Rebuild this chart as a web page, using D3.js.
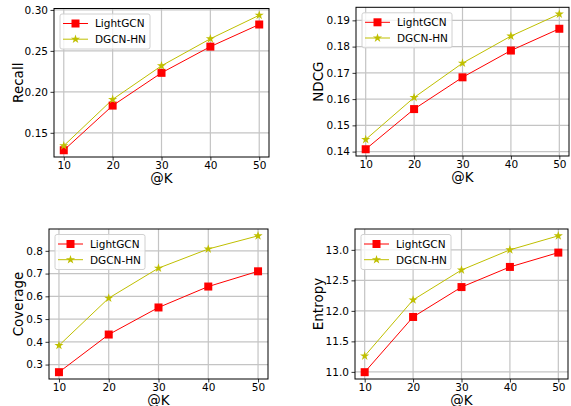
<!DOCTYPE html>
<html>
<head>
<meta charset="utf-8">
<script src="https://cdn.jsdelivr.net/npm/d3@7"></script>
<style>
  body { margin: 0; background: #fff; }
  text { font-family: "DejaVu Sans", sans-serif; fill: #000; }
</style>
</head>
<body>
<div id="chart"></div>
<script>
// data
var kValues = [10, 20, 30, 40, 50];
var seriesNames = ["LightGCN", "DGCN-HN"];

var recallLight = [0.1287, 0.1832, 0.2232, 0.2552, 0.2822];
var recallDgcn = [0.1342, 0.1908, 0.2318, 0.2648, 0.2935];

var ndcgLight = [0.1409, 0.1562, 0.1683, 0.1785, 0.1868];
var ndcgDgcn = [0.1446, 0.1606, 0.1737, 0.1840, 0.1924];

var coverageLight = [0.2665, 0.4320, 0.5510, 0.6430, 0.7100];
var coverageDgcn = [0.3840, 0.5920, 0.7240, 0.8080, 0.8660];

var entropyLight = [10.995, 11.900, 12.390, 12.720, 12.955];
var entropyDgcn = [11.260, 12.180, 12.670, 13.000, 13.230];

var recallTicks = [0.15, 0.20, 0.25, 0.30];
var ndcgTicks = [0.14, 0.15, 0.16, 0.17, 0.18, 0.19];
var coverageTicks = [0.3, 0.4, 0.5, 0.6, 0.7, 0.8];
var entropyTicks = [11.0, 11.5, 12.0, 12.5, 13.0];

var svgWidth = 571;
var svgHeight = 406;

var svg = d3.select("#chart").append("svg")
  .attr("width", svgWidth)
  .attr("height", svgHeight);

// panel boxes (left, right, top, bottom in px)
var panels = [
  {label: "Recall", light: recallLight, dgcn: recallDgcn, ticks: recallTicks, fmt: ".2f",
   left: 54, right: 269, top: 8.5, bottom: 157, labelX: 18},
  {label: "NDCG", light: ndcgLight, dgcn: ndcgDgcn, ticks: ndcgTicks, fmt: ".2f",
   left: 356, right: 569, top: 7.3, bottom: 156, labelX: 318},
  {label: "Coverage", light: coverageLight, dgcn: coverageDgcn, ticks: coverageTicks, fmt: ".1f",
   left: 49, right: 268, top: 229, bottom: 379, labelX: 18},
  {label: "Entropy", light: entropyLight, dgcn: entropyDgcn, ticks: entropyTicks, fmt: ".1f",
   left: 355, right: 568, top: 229, bottom: 379, labelX: 318}
];

var lightColor = "#ff0000";
var dgcnColor = "#bfbf00";

// matplotlib-like 5% margin around the data
function padded(lo, hi) {
  var r = hi - lo;
  return [lo - r * 0.05, hi + r * 0.05];
}

panels.forEach(function(p) {
  var g = svg.append("g");

  var x = d3.scaleLinear()
    .domain(padded(d3.min(kValues), d3.max(kValues)))
    .range([p.left, p.right]);

  var all = p.light.concat(p.dgcn);
  var y = d3.scaleLinear()
    .domain(padded(d3.min(all), d3.max(all)))
    .range([p.bottom, p.top]);

  // grid
  g.append("g").selectAll("line")
    .data(kValues).enter().append("line")
    .attr("x1", d => x(d)).attr("x2", d => x(d))
    .attr("y1", p.top).attr("y2", p.bottom)
    .attr("stroke", "#c4c4c4").attr("stroke-width", 1.2);
  g.append("g").selectAll("line")
    .data(p.ticks).enter().append("line")
    .attr("x1", p.left).attr("x2", p.right)
    .attr("y1", d => y(d)).attr("y2", d => y(d))
    .attr("stroke", "#c4c4c4").attr("stroke-width", 1.2);

  // axes
  var xAxis = g.append("g")
    .attr("transform", `translate(0, ${p.bottom})`)
    .call(d3.axisBottom(x).tickValues(kValues).tickSize(3.5).tickPadding(1).tickSizeOuter(0));
  var yAxis = g.append("g")
    .attr("transform", `translate(${p.left}, 0)`)
    .call(d3.axisLeft(y).tickValues(p.ticks).tickFormat(d3.format(p.fmt)).tickSize(3.5).tickPadding(2.5).tickSizeOuter(0));
  [xAxis, yAxis].forEach(function(a) {
    a.select(".domain").remove();
    a.selectAll("text").attr("font-size", "10.5px").attr("font-family", "DejaVu Sans");
    a.selectAll("line").attr("stroke", "#000").attr("stroke-width", 0.8);
  });

  // frame
  g.append("rect")
    .attr("x", p.left).attr("y", p.top)
    .attr("width", p.right - p.left).attr("height", p.bottom - p.top)
    .attr("fill", "none").attr("stroke", "#000").attr("stroke-width", 1);

  // lines
  var line = d3.line().x((d, i) => x(kValues[i])).y(d => y(d));
  g.append("path").datum(p.light)
    .attr("d", line).attr("fill", "none")
    .attr("stroke", lightColor).attr("stroke-width", 1);
  g.append("path").datum(p.dgcn)
    .attr("d", line).attr("fill", "none")
    .attr("stroke", dgcnColor).attr("stroke-width", 1);

  g.selectAll(".sq")
    .data(p.light).enter().append("rect")
    .attr("x", (d, i) => x(kValues[i]) - 4)
    .attr("y", d => y(d) - 4)
    .attr("width", 8).attr("height", 8)
    .attr("fill", lightColor);
  g.selectAll(".star")
    .data(p.dgcn).enter().append("path")
    .attr("d", d3.symbol().type(d3.symbolStar).size(26))
    .attr("transform", (d, i) => `translate(${x(kValues[i])}, ${y(d)})`)
    .attr("fill", dgcnColor);

  // axis labels
  g.append("text")
    .attr("x", (p.left + p.right) / 2)
    .attr("y", p.bottom + 26)
    .attr("text-anchor", "middle")
    .attr("font-size", "13.5px")
    .text("@K");
  g.append("text")
    .attr("transform", `translate(${p.labelX + 4.5}, ${(p.top + p.bottom) / 2}) rotate(-90)`)
    .attr("text-anchor", "middle")
    .attr("font-size", "13.5px")
    .text(p.label);

  // legend
  var lg = g.append("g").attr("transform", `translate(${p.left + 6}, ${p.top + 5.5})`);
  lg.append("rect")
    .attr("width", 90).attr("height", 35).attr("rx", 2)
    .attr("fill", "#fff").attr("fill-opacity", 0.8)
    .attr("stroke", "#d0d0d0").attr("stroke-width", 1);
  [0, 1].forEach(function(i) {
    var yy = 9.5 + i * 15.7;
    var col = i === 0 ? lightColor : dgcnColor;
    lg.append("line")
      .attr("x1", 3).attr("x2", 28).attr("y1", yy).attr("y2", yy)
      .attr("stroke", col).attr("stroke-width", 1);
    if (i === 0) {
      lg.append("rect").attr("x", 15.5 - 4).attr("y", yy - 4)
        .attr("width", 8).attr("height", 8).attr("fill", col);
    } else {
      lg.append("path")
        .attr("d", d3.symbol().type(d3.symbolStar).size(26))
        .attr("transform", `translate(15.5, ${yy})`)
        .attr("fill", col);
    }
    lg.append("text")
      .attr("x", 35).attr("y", yy + 3.8)
      .attr("font-size", "10.5px")
      .text(seriesNames[i]);
  });
});
</script>
</body>
</html>
